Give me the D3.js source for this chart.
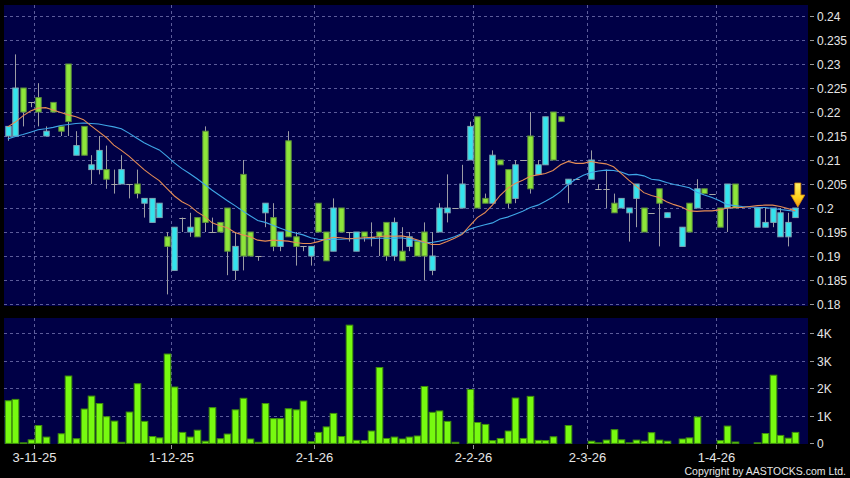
<!DOCTYPE html>
<html>
<head>
<meta charset="utf-8">
<script src="https://cdn.jsdelivr.net/npm/d3@7/dist/d3.min.js"></script>
<style>
html,body{margin:0;padding:0;background:#000;}
svg{display:block;}
text{font-family:"Liberation Sans",Arial,sans-serif;}
</style>
</head>
<body>
<script>
// ---- data ----
const openP = [0.215,0.215,0.225,0.222,0.223,0.215,0.222,0.217,0.230,0.211,
0.217,0.208,0.208,0.208,0.205,0.205,0.205,0.205,0.201,0.197,
0.198,0.194,0.187,0.198,0.195,0.198,0.216,0.195,0.197,0.200,
0.187,0.207,0.195,0.190,0.199,0.198,0.192,0.214,0.194,0.192,
0.190,0.201,0.195,0.191,0.200,0.195,0.191,0.195,0.194,0.195,
0.197,0.190,0.191,0.192,0.193,0.195,0.187,0.195,0.199,0.200,
0.200,0.210,0.219,0.202,0.201,0.210,0.208,0.202,0.210,0.215,
0.207,0.209,0.220,0.219,0.205,0.206,null,0.206,0.204,0.204,
0.201,0.200,0.199,0.202,0.200,0.199,0.204,0.198,null,0.192,
0.201,0.200,0.204,0.203,0.200,0.200,0.205,null,null,0.196,
0.196,0.197,0.194,0.194,0.198];
const highP = [0.217,0.232,0.225,0.222,0.226,0.217,0.222,0.217,0.230,0.216,
0.217,0.211,0.215,0.213,0.208,0.211,0.205,0.208,0.202,0.202,
0.201,0.195,0.196,0.198,0.199,0.198,0.217,0.198,0.197,0.200,
0.195,0.210,0.195,0.190,0.201,0.201,0.195,0.216,0.195,0.192,
0.192,0.201,0.195,0.202,0.200,0.195,0.195,0.195,0.197,0.195,
0.197,0.198,0.196,0.195,0.193,0.197,0.195,0.201,0.207,0.200,
0.209,0.218,0.219,0.203,0.212,0.210,0.208,0.210,0.210,0.220,
0.210,0.219,0.220,0.219,0.206,0.206,null,0.212,0.205,0.208,
0.203,0.202,0.200,0.205,0.200,0.199,0.204,0.199,null,0.196,
0.201,0.206,0.204,0.203,0.200,0.205,0.205,null,null,0.200,
0.200,0.200,0.200,0.199,0.200];
const lowP = [0.214,0.215,0.217,0.221,0.217,0.215,0.220,0.215,0.215,0.211,
0.211,0.205,0.207,0.204,0.203,0.205,0.202,0.202,0.198,0.197,
0.198,0.182,0.187,0.195,0.194,0.194,0.195,0.195,0.195,0.186,
0.185,0.187,0.190,0.189,0.196,0.191,0.191,0.194,0.188,0.191,
0.188,0.195,0.189,0.191,0.195,0.193,0.191,0.193,0.192,0.190,
0.189,0.189,0.189,0.191,0.190,0.185,0.186,0.195,0.197,0.200,
0.200,0.210,0.200,0.201,0.201,0.209,0.200,0.201,0.210,0.203,
0.207,0.209,0.210,0.218,0.201,0.206,null,0.206,0.204,0.200,
0.199,0.200,0.193,0.196,0.195,0.199,0.192,0.198,null,0.192,
0.195,0.200,0.203,0.203,0.196,0.195,0.200,null,null,0.196,
0.196,0.196,0.194,0.192,0.198];
const closeP = [0.217,0.225,0.220,0.222,0.220,0.216,0.220,0.216,0.218,0.213,
0.211,0.209,0.212,0.206,0.205,0.208,0.205,0.203,0.202,0.202,
0.201,0.192,0.196,0.198,0.196,0.194,0.197,0.195,0.195,0.191,
0.192,0.190,0.190,0.190,0.201,0.192,0.195,0.194,0.192,0.192,
0.192,0.195,0.189,0.200,0.195,0.195,0.195,0.194,0.194,0.194,
0.190,0.197,0.189,0.194,0.190,0.190,0.190,0.200,0.200,0.200,
0.205,0.217,0.200,0.201,0.211,0.209,0.201,0.209,0.210,0.204,
0.209,0.219,0.210,0.218,0.206,0.206,null,0.210,0.204,0.204,
0.199,0.202,0.200,0.205,0.195,0.199,0.201,0.199,null,0.196,
0.195,0.204,0.203,0.203,0.196,0.205,0.200,null,null,0.200,
0.197,0.200,0.199,0.197,0.200];
// volume in thousands
const volumeK = [1.55,1.6,0.02,0.13,0.65,0.23,0,0.35,2.45,0.17,
1.25,1.72,1.45,0.97,0.81,0.04,1.14,2.17,0.8,0.25,
0.2,3.25,2.05,0.4,0.23,0.48,0.08,1.3,0.17,0.34,
1.22,1.64,0.16,0.04,1.45,0.9,0.9,1.26,1.22,1.54,
0.06,0.4,0.6,1.09,0.25,4.3,0.11,0.1,0.45,2.76,
0.18,0.23,0.16,0.23,0.27,2.07,1.13,1.18,0.8,0.04,
0,1.96,0.76,0.69,0.1,0.18,0.45,1.65,0.18,1.71,
0.11,0.1,0.24,0,0.65,0,0,0.08,0.02,0.12,
0.5,0.13,0.02,0.12,0.08,0.39,0.12,0.08,0,0.16,
0.2,0.96,0,0,0.1,0.63,0.05,0,0,0.02,
0.36,2.48,0.29,0.19,0.4];
const maShort = [0.2169,0.2179,0.2192,0.2202,0.2208,0.2209,0.2204,0.2199,0.2194,0.2190,
0.2184,0.2171,0.2159,0.2147,0.2131,0.2120,0.2108,0.2094,0.2080,0.2068,
0.2057,0.2041,0.2025,0.2013,0.2005,0.1992,0.1982,0.1969,0.1963,0.1959,
0.1949,0.1944,0.1940,0.1933,0.1931,0.1933,0.1932,0.1931,0.1928,0.1926,
0.1926,0.1930,0.1935,0.1939,0.1938,0.1936,0.1937,0.1938,0.1939,0.1940,
0.1942,0.1941,0.1942,0.1939,0.1934,0.1929,0.1924,0.1924,0.1930,0.1937,
0.1945,0.1963,0.1980,0.1990,0.2006,0.2026,0.2041,0.2051,0.2058,0.2066,
0.2069,0.2072,0.2078,0.2090,0.2097,0.2093,0.2093,0.2097,0.2094,0.2092,
0.2086,0.2072,0.2058,0.2045,0.2032,0.2026,0.2022,0.2013,0.2007,0.2002,
0.1994,0.1993,0.1994,0.1994,0.1996,0.2000,0.2001,0.2001,0.2003,0.2005,
0.2006,0.2006,0.2003,0.1999,0.1994];
const maLong = [0.2144,0.2149,0.2153,0.2158,0.2163,0.2165,0.2168,0.2172,0.2174,0.2176,
0.2177,0.2176,0.2175,0.2172,0.2169,0.2165,0.2156,0.2146,0.2136,0.2128,
0.2121,0.2108,0.2094,0.2082,0.2072,0.2061,0.2049,0.2037,0.2026,0.2015,
0.2005,0.1994,0.1984,0.1974,0.1970,0.1964,0.1958,0.1952,0.1948,0.1944,
0.1938,0.1935,0.1934,0.1935,0.1935,0.1936,0.1936,0.1936,0.1936,0.1937,
0.1937,0.1937,0.1938,0.1935,0.1932,0.1928,0.1928,0.1931,0.1935,0.1940,
0.1947,0.1956,0.1961,0.1965,0.1969,0.1977,0.1981,0.1987,0.1993,0.2001,
0.2006,0.2014,0.2023,0.2034,0.2049,0.2060,0.2068,0.2074,0.2077,0.2079,
0.2078,0.2075,0.2069,0.2070,0.2067,0.2060,0.2058,0.2053,0.2049,0.2046,
0.2042,0.2033,0.2027,0.2022,0.2015,0.2007,0.2005,0.2003,0.2002,0.2001,
0.2001,0.1999,0.1997,0.1995,0.1993];
const monthStart = [4, 22, 41, 62, 77, 94];
const monthLabels = ["3-11-25","1-12-25","2-1-26","2-2-26","2-3-26","1-4-26"];
const priceTicks = [0.18,0.185,0.19,0.195,0.2,0.205,0.21,0.215,0.22,0.225,0.23,0.235,0.24];
const volTicks = [0,1,2,3,4];
const volTickLabels = ["0","1K","2K","3K","4K"];

// ---- layout ----
const W = 850, H = 478;
const plotL = 4, plotR = 808;
const pTop = 5, pBot = 306;
const vTop = 318, vBot = 444;
const C = {
  panel:"#000046", grid:"#5c5c9a", text:"#e6e6e6", tick:"#9a9a9a",
  up:"#33e4ee", upStroke:"#7fa6b4", down:"#8ee53a", downStroke:"#5d8f3c",
  wick:"#9c9ca4", flat:"#a8a8a8", vol:"#77fa10", volStroke:"#3f8f0c",
  maS:"#e58c55", maL:"#3fa6e6"
};

const n = closeP.length;
const idx = d3.range(n);
const x = d3.scaleBand().domain(idx).range([plotL, 799.1]).padding(0);
const xc = i => x(i) + x.bandwidth()/2;
const y = d3.scaleLinear().domain([0.18, 0.24]).range([304, 16]);
const yv = d3.scaleLinear().domain([0, 4]).range([443.4, 333.4]);

const svg = d3.select("body").append("svg").attr("width", W).attr("height", H);
svg.append("rect").attr("width", W).attr("height", H).attr("fill", "#000");

// panels
svg.append("rect").attr("x", plotL).attr("y", pTop).attr("width", plotR-plotL).attr("height", pBot-pTop).attr("fill", C.panel);
svg.append("rect").attr("x", plotL).attr("y", vTop).attr("width", plotR-plotL).attr("height", vBot-vTop).attr("fill", C.panel);

const grid = svg.append("g").attr("stroke", C.grid).attr("stroke-width", 1)
  .attr("stroke-dasharray", "3,3").attr("shape-rendering", "crispEdges");
priceTicks.forEach(t => {
  grid.append("line").attr("x1", plotL).attr("x2", plotR)
    .attr("y1", Math.round(y(t)) + 0.5).attr("y2", Math.round(y(t)) + 0.5);
});
volTicks.filter(t => t > 0).forEach(t => {
  grid.append("line").attr("x1", plotL).attr("x2", plotR)
    .attr("y1", Math.round(yv(t)) + 0.5).attr("y2", Math.round(yv(t)) + 0.5);
});
monthStart.forEach(m => {
  const gx = Math.round(x(m)) + 0.5;
  grid.append("line").attr("x1", gx).attr("x2", gx).attr("y1", pTop).attr("y2", pBot);
  grid.append("line").attr("x1", gx).attr("x2", gx).attr("y1", vTop).attr("y2", vBot);
});

// candles
const bw = 5.4;
const valid = idx.filter(i => closeP[i] !== null);
const cg = svg.append("g");
cg.selectAll("line.wick").data(valid.filter(i => highP[i] > lowP[i])).join("line")
  .attr("x1", i => Math.round(xc(i)) + 0.5).attr("x2", i => Math.round(xc(i)) + 0.5)
  .attr("y1", i => y(highP[i])).attr("y2", i => y(lowP[i]))
  .attr("stroke", C.wick).attr("stroke-width", 1);
cg.selectAll("rect.body").data(valid.filter(i => closeP[i] !== openP[i])).join("rect")
  .attr("x", i => Math.round(xc(i)) + 0.5 - bw/2)
  .attr("y", i => y(Math.max(openP[i], closeP[i])))
  .attr("width", bw)
  .attr("height", i => Math.abs(y(openP[i]) - y(closeP[i])))
  .attr("fill", i => closeP[i] > openP[i] ? C.up : C.down)
  .attr("stroke", i => closeP[i] > openP[i] ? C.upStroke : C.downStroke)
  .attr("stroke-width", 1);
cg.selectAll("line.flat").data(valid.filter(i => closeP[i] === openP[i])).join("line")
  .attr("x1", i => Math.round(xc(i)) + 0.5 - bw/2 - 0.5)
  .attr("x2", i => Math.round(xc(i)) + 0.5 + bw/2 + 0.5)
  .attr("y1", i => Math.round(y(closeP[i])) + 0.5).attr("y2", i => Math.round(y(closeP[i])) + 0.5)
  .attr("stroke", C.flat).attr("stroke-width", 1);

// moving averages
const line = d3.line().x(i => xc(i));
svg.append("path").attr("d", line.y(i => y(maLong[i]))(idx))
  .attr("fill", "none").attr("stroke", C.maL).attr("stroke-width", 1.1);
svg.append("path").attr("d", line.y(i => y(maShort[i]))(idx))
  .attr("fill", "none").attr("stroke", C.maS).attr("stroke-width", 1.1);

// arrow on the last candle
const defs = svg.append("defs");
const grad = defs.append("linearGradient").attr("id", "arrowG").attr("x1", 0).attr("x2", 0).attr("y1", 0).attr("y2", 1);
grad.append("stop").attr("offset", "0%").attr("stop-color", "#fff36a");
grad.append("stop").attr("offset", "60%").attr("stop-color", "#ffd21c");
grad.append("stop").attr("offset", "100%").attr("stop-color", "#f09a10");
const last = valid[valid.length - 1];
const ax = xc(last) + 2.5, ay = y(highP[last]) - 1;
svg.append("path")
  .attr("d", `M${ax-3},${ay-24} L${ax+3},${ay-24} L${ax+3},${ay-12} L${ax+7},${ay-12} L${ax},${ay} L${ax-7},${ay-12} L${ax-3},${ay-12} Z`)
  .attr("fill", "url(#arrowG)").attr("stroke", "#d88a10").attr("stroke-width", 0.8);

// volume bars
const vbw = 6.6;
svg.append("g").selectAll("rect").data(idx.filter(i => volumeK[i] > 0)).join("rect")
  .attr("x", i => Math.round(xc(i)) + 0.5 - vbw/2)
  .attr("y", i => yv(volumeK[i]))
  .attr("width", vbw)
  .attr("height", i => yv(0) - yv(volumeK[i]))
  .attr("fill", C.vol).attr("stroke", C.volStroke).attr("stroke-width", 1);

// right axes
const ax1 = svg.append("g");
priceTicks.forEach(t => {
  const ty = Math.round(y(t)) + 0.5;
  ax1.append("line").attr("x1", 810).attr("x2", 814).attr("y1", ty).attr("y2", ty).attr("stroke", C.tick);
  ax1.append("text").attr("x", 817).attr("y", ty).attr("dy", "0.36em")
    .attr("fill", C.text).attr("font-size", 12).text(String(+t.toFixed(3)));
});
volTicks.forEach((t, k) => {
  const ty = Math.round(yv(t)) + 0.5;
  ax1.append("line").attr("x1", 810).attr("x2", 814).attr("y1", ty).attr("y2", ty).attr("stroke", C.tick);
  ax1.append("text").attr("x", 817).attr("y", ty).attr("dy", "0.36em")
    .attr("fill", C.text).attr("font-size", 12).text(volTickLabels[k]);
});

// bottom axis
monthStart.forEach((m, k) => {
  const gx = Math.round(x(m)) + 0.5;
  ax1.append("line").attr("x1", gx).attr("x2", gx).attr("y1", 445).attr("y2", 449).attr("stroke", C.tick);
  ax1.append("text").attr("x", gx).attr("y", 462).attr("text-anchor", "middle")
    .attr("fill", C.text).attr("font-size", 13).text(monthLabels[k]);
});

svg.append("text").attr("x", 846).attr("y", 475).attr("text-anchor", "end")
  .attr("fill", C.text).attr("font-size", 10.5).text("Copyright by AASTOCKS.com Ltd.");
</script>
</body>
</html>
